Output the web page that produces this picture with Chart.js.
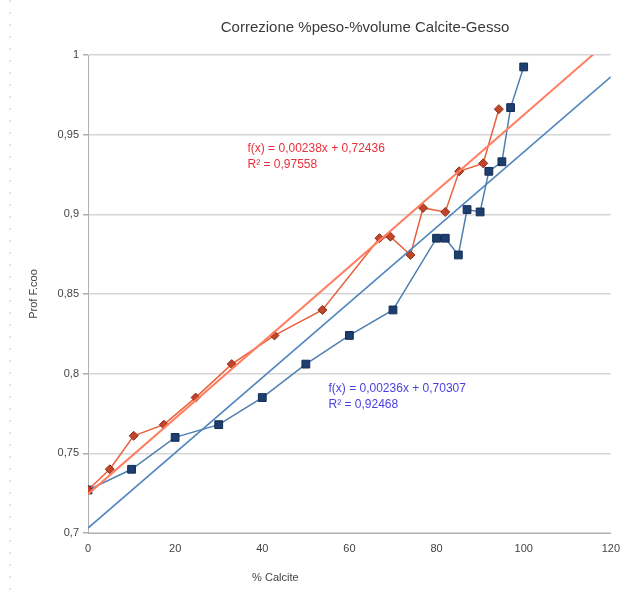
<!DOCTYPE html>
<html>
<head>
<meta charset="utf-8">
<script src="https://cdn.jsdelivr.net/npm/chart.js@4"></script>
<style>
  html, body { margin: 0; padding: 0; background: #fff; }
  #wrap { width: 624px; height: 598px; }
</style>
</head>
<body>
<div id="wrap"><canvas id="chart" width="624" height="598"></canvas></div>
<script>
// % peso (weight) series - blue squares
const pesoX = [0, 10, 20, 30, 40, 50, 60, 70, 80, 82, 85, 87, 90, 92, 95, 97, 100];
const pesoY = [0.727, 0.74, 0.76, 0.768, 0.785, 0.806, 0.824, 0.84, 0.885, 0.885, 0.8745, 0.903, 0.9015, 0.927, 0.933, 0.967, 0.9925];

// % volume series - red diamonds
const volX = [0, 5, 10.5, 17.4, 24.7, 33, 42.8, 53.8, 66.9, 69.4, 74, 76.9, 82, 85.2, 90.7, 94.3];
const volY = [0.727, 0.74, 0.761, 0.768, 0.785, 0.806, 0.824, 0.84, 0.885, 0.886, 0.8745, 0.904, 0.9015, 0.927, 0.932, 0.966];

// trend lines as printed on the chart
const volTrend = { slope: 0.00238, intercept: 0.72436 };
const pesoTrend = { slope: 0.00236, intercept: 0.70307 };
const trendRange = [0, 120];

const xTicks = [0, 20, 40, 60, 80, 100, 120];
const yTicks = [0.7, 0.75, 0.8, 0.85, 0.9, 0.95, 1];

const chartTitle = 'Correzione %peso-%volume Calcite-Gesso';
const volLabel = ['f(x) = 0,00238x + 0,72436', 'R² = 0,97558'];
const pesoLabel = ['f(x) = 0,00236x + 0,70307', 'R² = 0,92468'];

const FONT = '"Liberation Sans", Arial, sans-serif';
const pts = (xs, ys) => xs.map((x, i) => ({ x: x, y: ys[i] }));
const line = (t) => trendRange.map(x => ({ x: x, y: t.intercept + t.slope * x }));
const comma = v => String(+v.toFixed(2)).replace('.', ',');

const extras = {
    id: 'extras',
    afterDraw(chart) {
        const ctx = chart.ctx;
        const xs = chart.scales.x, ys = chart.scales.y;
        ctx.save();
        // title, sitting a bit right of the plot centre as in the original
        ctx.font = '15px ' + FONT;
        ctx.fillStyle = '#3a3a3a';
        ctx.textAlign = 'center';
        ctx.textBaseline = 'middle';
        ctx.fillText(chartTitle, 365, 28);

        ctx.font = '12px ' + FONT;
        ctx.textAlign = 'left';
        ctx.fillStyle = '#e8303a';
        volLabel.forEach((t, i) => ctx.fillText(t, xs.getPixelForValue(36.6), ys.getPixelForValue(0.9413) + i * 16));
        ctx.fillStyle = '#4a3ee0';
        pesoLabel.forEach((t, i) => ctx.fillText(t, xs.getPixelForValue(55.2), ys.getPixelForValue(0.7905) + i * 16));

        // x axis title, off-centre like the original
        ctx.fillStyle = '#444';
        ctx.font = '11px ' + FONT;
        ctx.textAlign = 'center';
        ctx.fillText('% Calcite', xs.getPixelForValue(43), 578);

        // dotted edge of the scanned page
        ctx.strokeStyle = '#c8c8c8';
        ctx.setLineDash([2, 10]);
        ctx.beginPath();
        ctx.moveTo(10, 0);
        ctx.lineTo(10, 598);
        ctx.stroke();
        ctx.restore();
    }
};

new Chart(document.getElementById('chart'), {
    type: 'scatter',
    data: {
        datasets: [
            {
                data: line(volTrend),
                showLine: true,
                borderColor: '#ff7f62',
                borderWidth: 2,
                pointRadius: 0
            },
            {
                data: line(pesoTrend),
                showLine: true,
                borderColor: '#4f84bd',
                borderWidth: 1.5,
                pointRadius: 0
            },
            {
                data: pts(volX, volY),
                showLine: true,
                borderColor: '#e8603c',
                borderWidth: 1.5,
                pointStyle: 'rectRot',
                pointRadius: 4.5,
                pointBackgroundColor: '#c2452a',
                pointBorderColor: '#8a2c1a',
                pointBorderWidth: 1
            },
            {
                data: pts(pesoX, pesoY),
                showLine: true,
                borderColor: '#4f7fb0',
                borderWidth: 1.5,
                pointStyle: 'rect',
                pointRadius: 5.5,
                pointBackgroundColor: '#1d3f70',
                pointBorderColor: '#122c52',
                pointBorderWidth: 1
            }
        ]
    },
    options: {
        responsive: false,
        animation: false,
        layout: { padding: { right: 12, left: 0, top: 55, bottom: 0 } },
        plugins: {
            legend: { display: false },
            tooltip: { enabled: false }
        },
        scales: {
            x: {
                type: 'linear',
                min: 0,
                max: 120,
                afterBuildTicks: s => { s.ticks = xTicks.map(v => ({ value: v })); },
                afterFit: s => { s.height = 65; },
                grid: { display: false, drawTicks: true, tickLength: 5, color: '#b0b0b0' },
                border: { color: '#b0b0b0' },
                ticks: {
                    color: '#444',
                    font: { family: FONT, size: 11 },
                    padding: 4
                }
            },
            y: {
                min: 0.7,
                max: 1,
                afterBuildTicks: s => { s.ticks = yTicks.map(v => ({ value: v })); },
                afterFit: s => { s.width = 88; },
                grid: { color: '#d6d6d6', lineWidth: 1.5, tickLength: 5, tickColor: '#b0b0b0' },
                border: { color: '#b0b0b0' },
                ticks: {
                    color: '#444',
                    font: { family: FONT, size: 11 },
                    padding: 4,
                    callback: v => comma(v)
                },
                title: {
                    display: true,
                    text: 'Prof F.coo',
                    color: '#444',
                    font: { family: FONT, size: 11 },
                    padding: { top: 27, bottom: 0 }
                }
            }
        }
    },
    plugins: [extras]
});
</script>
</body>
</html>
